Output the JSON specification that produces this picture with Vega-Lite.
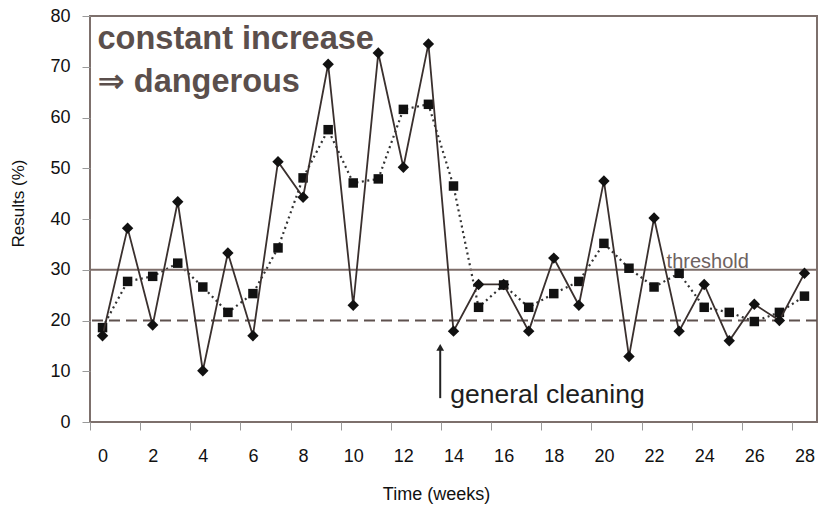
{
  "$schema": "https://vega.github.io/schema/vega-lite/v6.json",
  "width": 727,
  "height": 406,
  "autosize": "none",
  "padding": {"left": 90, "top": 16, "right": 2, "bottom": 84},
  "background": "white",
  "config": {
    "view": {"stroke": "#7d706c", "strokeWidth": 2},
    "font": "Liberation Sans, DejaVu Sans"
  },
  "datasets": {
    "series": [
      {"week": 0, "a": 17.0, "b": 18.6},
      {"week": 1, "a": 38.2, "b": 27.7},
      {"week": 2, "a": 19.1, "b": 28.7},
      {"week": 3, "a": 43.4, "b": 31.3},
      {"week": 4, "a": 10.1, "b": 26.6},
      {"week": 5, "a": 33.3, "b": 21.6},
      {"week": 6, "a": 17.0, "b": 25.3},
      {"week": 7, "a": 51.3, "b": 34.3},
      {"week": 8, "a": 44.3, "b": 48.1},
      {"week": 9, "a": 70.5, "b": 57.6},
      {"week": 10, "a": 23.0, "b": 47.1},
      {"week": 11, "a": 72.7, "b": 47.9},
      {"week": 12, "a": 50.2, "b": 61.6},
      {"week": 13, "a": 74.5, "b": 62.6},
      {"week": 14, "a": 17.9, "b": 46.5},
      {"week": 15, "a": 27.1, "b": 22.6},
      {"week": 16, "a": 27.1, "b": 27.0},
      {"week": 17, "a": 17.9, "b": 22.6},
      {"week": 18, "a": 32.3, "b": 25.3},
      {"week": 19, "a": 23.0, "b": 27.7},
      {"week": 20, "a": 47.5, "b": 35.2},
      {"week": 21, "a": 12.9, "b": 30.3},
      {"week": 22, "a": 40.2, "b": 26.6},
      {"week": 23, "a": 17.9, "b": 29.3},
      {"week": 24, "a": 27.1, "b": 22.6},
      {"week": 25, "a": 16.0, "b": 21.6},
      {"week": 26, "a": 23.2, "b": 19.8},
      {"week": 27, "a": 20.0, "b": 21.6},
      {"week": 28, "a": 29.3, "b": 24.8}
    ],
    "refs": [
      {"y": 30, "kind": "threshold"},
      {"y": 20, "kind": "base"}
    ],
    "labels": [
      {"x": -0.2, "y": 73.5, "text": "constant increase", "kind": "big"},
      {"x": -0.2, "y": 65.0, "text": "⇒ dangerous", "kind": "big"},
      {"x": 22.5, "y": 30.4, "text": "threshold", "kind": "thr"},
      {"x": 13.87, "y": 3.8, "text": "general cleaning", "kind": "clean"}
    ],
    "arrow": [
      {"x": 13.47, "y0": 4.7, "y1": 14.4, "tip": 14.7}
    ]
  },
  "layer": [
    {
      "data": {"name": "series"},
      "mark": {"type": "line", "color": "#333333", "strokeWidth": 2.2, "strokeDash": [2, 3.5]},
      "encoding": {
        "x": {
          "field": "week", "type": "quantitative",
          "scale": {"domain": [-0.5, 28.5], "nice": false, "zero": false},
          "axis": {
            "values": [0,1,2,3,4,5,6,7,8,9,10,11,12,13,14,15,16,17,18,19,20,21,22,23,24,25,26,27,28],
            "tickOffset": -12.53,
            "labelOffset": 12.53,
            "labelExpr": "datum.value % 2 ? '' : datum.label",
            "domain": false,
            "grid": false,
            "tickSize": 8,
            "tickColor": "#9a9a9a",
            "tickWidth": 1,
            "labelFontSize": 18,
            "labelColor": "#111111",
            "labelPadding": 17,
            "title": "Time (weeks)",
            "titleFontSize": 18,
            "titleFontWeight": "normal",
            "titleColor": "#111111",
            "titleX": 346,
            "titleY": 72,
            "titleBaseline": "middle",
            "titleAlign": "center"
          }
        },
        "y": {
          "field": "b", "type": "quantitative",
          "scale": {"domain": [0, 80], "nice": false},
          "axis": {
            "values": [0,10,20,30,40,50,60,70,80],
            "domain": false,
            "grid": false,
            "tickSize": 8,
            "tickColor": "#9a9a9a",
            "tickWidth": 1,
            "labelFontSize": 18,
            "labelColor": "#111111",
            "labelPadding": 12,
            "title": "Results (%)",
            "titleFontSize": 17,
            "titleFontWeight": "normal",
            "titleColor": "#111111",
            "titleX": -72,
            "titleY": 187,
            "titleAngle": -90,
            "titleAlign": "center",
            "titleBaseline": "middle"
          }
        }
      }
    },
    {
      "data": {"name": "refs"},
      "transform": [{"filter": "datum.kind === 'threshold'"}],
      "mark": {"type": "rule", "color": "#7d6d69", "strokeWidth": 2},
      "encoding": {"y": {"field": "y", "type": "quantitative"}}
    },
    {
      "data": {"name": "refs"},
      "transform": [{"filter": "datum.kind === 'base'"}],
      "mark": {"type": "rule", "color": "#5e514e", "strokeWidth": 2, "strokeDash": [11, 6]},
      "encoding": {"y": {"field": "y", "type": "quantitative"}}
    },
    {
      "data": {"name": "series"},
      "mark": {"type": "point", "shape": "square", "filled": true, "color": "#111111", "size": 90, "opacity": 1},
      "encoding": {
        "x": {"field": "week", "type": "quantitative"},
        "y": {"field": "b", "type": "quantitative"}
      }
    },
    {
      "data": {"name": "series"},
      "mark": {"type": "line", "color": "#3a302e", "strokeWidth": 1.8},
      "encoding": {
        "x": {"field": "week", "type": "quantitative"},
        "y": {"field": "a", "type": "quantitative"}
      }
    },
    {
      "data": {"name": "series"},
      "mark": {"type": "point", "shape": "diamond", "filled": true, "color": "#111111", "size": 130, "opacity": 1},
      "encoding": {
        "x": {"field": "week", "type": "quantitative"},
        "y": {"field": "a", "type": "quantitative"}
      }
    },
    {
      "data": {"name": "arrow"},
      "mark": {"type": "rule", "color": "#222222", "strokeWidth": 2},
      "encoding": {
        "x": {"field": "x", "type": "quantitative"},
        "y": {"field": "y0", "type": "quantitative"},
        "y2": {"field": "y1"}
      }
    },
    {
      "data": {"name": "arrow"},
      "mark": {"type": "point", "shape": "triangle-up", "filled": true, "color": "#222222", "size": 60, "opacity": 1},
      "encoding": {
        "x": {"field": "x", "type": "quantitative"},
        "y": {"field": "tip", "type": "quantitative"}
      }
    },
    {
      "data": {"name": "labels"},
      "transform": [{"filter": "datum.kind === 'big'"}],
      "mark": {"type": "text", "align": "left", "baseline": "alphabetic", "fontSize": 32.5, "fontWeight": "bold", "color": "#5b4f4c"},
      "encoding": {
        "x": {"field": "x", "type": "quantitative"},
        "y": {"field": "y", "type": "quantitative"},
        "text": {"field": "text"}
      }
    },
    {
      "data": {"name": "labels"},
      "transform": [{"filter": "datum.kind === 'thr'"}],
      "mark": {"type": "text", "align": "left", "baseline": "alphabetic", "fontSize": 20, "color": "#6e625f"},
      "encoding": {
        "x": {"field": "x", "type": "quantitative"},
        "y": {"field": "y", "type": "quantitative"},
        "text": {"field": "text"}
      }
    },
    {
      "data": {"name": "labels"},
      "transform": [{"filter": "datum.kind === 'clean'"}],
      "mark": {"type": "text", "align": "left", "baseline": "alphabetic", "fontSize": 26.5, "color": "#1e1e1e"},
      "encoding": {
        "x": {"field": "x", "type": "quantitative"},
        "y": {"field": "y", "type": "quantitative"},
        "text": {"field": "text"}
      }
    }
  ]
}
